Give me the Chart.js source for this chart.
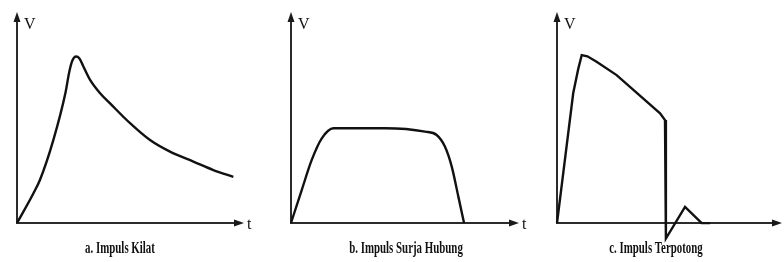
<!DOCTYPE html>
<html>
<head>
<meta charset="utf-8">
<script src="https://cdn.jsdelivr.net/npm/chart.js@4/dist/chart.umd.min.js"></script>
<style>
  body { margin: 0; background: #fff; }
  #wrap { position: relative; width: 784px; height: 262px; overflow: hidden; background: #fff; }
  #wrap canvas { position: absolute; top: 0; }
</style>
</head>
<body>
<div id="wrap">
  <canvas id="chartA" width="270" height="262" style="left:0px"></canvas>
  <canvas id="chartB" width="262" height="262" style="left:270px"></canvas>
  <canvas id="chartC" width="252" height="262" style="left:532px"></canvas>
</div>
<script>
// values (t and V in relative units, 0..100)++++++++++++++
// a. lightning impulse
const kilatT = [0, 7.2, 10.1, 16.0, 21.4, 23.0, 24.4, 26.0, 27.5, 29.1, 32.2, 36.6, 41.0, 49.8, 58.6, 67.4, 77.7, 86.5, 95.3];
const kilatV = [0, 14.0, 20.4, 39.3, 62.0, 71.5, 77.0, 78.9, 78.0, 74.5, 67.8, 61.5, 56.7, 47.3, 39.3, 33.8, 29.1, 25.1, 21.9];

// b. switching surge impulse
const surjaT = [0, 4.7, 9.1, 13.5, 18.6, 41.2, 58.8, 63.9, 67.5, 70.5, 73.4, 75.9];
const surjaV = [0, 15.6, 29.9, 40.1, 44.9, 44.9, 43.3, 41.7, 36.2, 26.7, 12.5, 0];

// c. chopped impulse
const potongT = [0, 7.2, 9.5, 11.0, 13.5, 17.6, 26.5, 45.8, 48.0, 48.4, 48.4, 56.9, 64.3, 68.0];
const potongV = [0, 61.5, 73.3, 79.6, 79.0, 76.4, 70.1, 52.0, 48.8, 45.6, -7.3, 7.7, 0, 0];

// labels
const captions = ['a. Impuls Kilat', 'b. Impuls Surja Hubung', 'c. Impuls Terpotong'];
const yAxisLabel = 'V';
const xAxisLabel = 't';

// turns two arrays into {x, y} points
function toPoints(ts, vs){
    return ts.map((t, i) => ({x: t, y: vs[i]}));
}

// draws the arrow axes, the V / t letters and the caption+++++++++++++++
const impulsAxes = {
    id: 'impulsAxes',
    beforeDatasetsDraw(chart, args, opts){
        const ctx = chart.ctx;
        const area = chart.chartArea;
        const x0 = chart.scales.x.getPixelForValue(0);
        const y0 = chart.scales.y.getPixelForValue(0);
        ctx.save();
        ctx.strokeStyle = '#2b2b2b';
        ctx.fillStyle = '#1a1a1a';
        ctx.lineWidth = 2;
        // vertical axis
        ctx.beginPath();
        ctx.moveTo(x0, y0 + 1);
        ctx.lineTo(x0, area.top + 6);
        ctx.stroke();
        ctx.beginPath();
        ctx.moveTo(x0, area.top);
        ctx.lineTo(x0 - 3.5, area.top + 10);
        ctx.lineTo(x0 + 3.5, area.top + 10);
        ctx.closePath();
        ctx.fill();
        // horizontal axis
        ctx.beginPath();
        ctx.moveTo(x0 - 1, y0);
        ctx.lineTo(area.right - 6, y0);
        ctx.stroke();
        ctx.beginPath();
        ctx.moveTo(area.right, y0);
        ctx.lineTo(area.right - 10, y0 - 3.5);
        ctx.lineTo(area.right - 10, y0 + 3.5);
        ctx.closePath();
        ctx.fill();
        ctx.restore();
    },
    afterDraw(chart, args, opts){
        const ctx = chart.ctx;
        const area = chart.chartArea;
        const x0 = chart.scales.x.getPixelForValue(0);
        const y0 = chart.scales.y.getPixelForValue(0);
        ctx.save();
        ctx.fillStyle = '#111';
        ctx.textBaseline = 'middle';
        ctx.textAlign = 'left';
        ctx.font = '16px "Liberation Serif", serif';
        ctx.fillText(yAxisLabel, x0 + 7, area.top + 13);
        ctx.fillText(xAxisLabel, area.right + 3, y0 + 2);
        // caption, narrow bold serif
        ctx.font = 'bold 16px "Liberation Serif", serif';
        ctx.textAlign = 'center';
        ctx.translate(opts.captionX, opts.captionY);
        ctx.scale(0.68, 1);
        ctx.fillText(opts.caption, 0, 0);
        ctx.restore();
    }
};

function makeChart(id, points, yMin, smooth, pad, caption, captionX){
    const ctx = document.getElementById(id).getContext('2d');
    return new Chart(ctx, {
        type: 'line',
        data: {
            datasets: [{
                data: points,
                borderColor: '#111',
                borderWidth: 2.4,
                pointRadius: 0,
                fill: false,
                clip: false,
                tension: smooth ? 0.4 : 0,
                cubicInterpolationMode: smooth ? 'monotone' : 'default'
            }]
        },
        options: {
            responsive: false,
            animation: false,
            events: [],
            layout: { padding: pad },
            scales: {
                x: { type: 'linear', display: false, min: 0, max: 100 },
                y: { type: 'linear', display: false, min: yMin, max: 100 }
            },
            plugins: {
                legend: { display: false },
                tooltip: { enabled: false },
                impulsAxes: { caption: caption, captionX: captionX, captionY: 249 }
            }
        },
        plugins: [impulsAxes]
    });
}

makeChart('chartA', toPoints(kilatT, kilatV), 0, true,
    {left: 17, right: 26, top: 12, bottom: 39}, captions[0], 120);
makeChart('chartB', toPoints(surjaT, surjaV), 0, true,
    {left: 21, right: 13, top: 12, bottom: 39}, captions[1], 136);
makeChart('chartC', toPoints(potongT, potongV), -8, false,
    {left: 25, right: 2, top: 12, bottom: 22}, captions[2], 124);
</script>
</body>
</html>
